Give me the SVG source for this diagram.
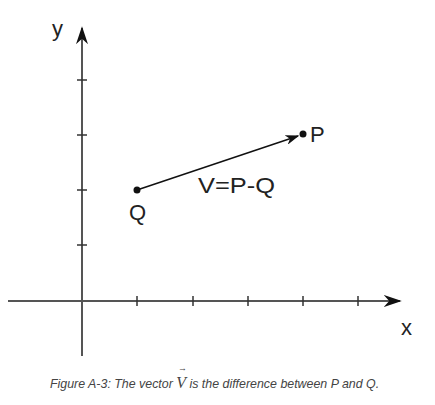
<svg xmlns="http://www.w3.org/2000/svg" width="435" height="405" viewBox="0 0 435 405">
<style>
.axis{stroke:#555;stroke-width:2;fill:none}
.tick{stroke:#333;stroke-width:1.5}
.lbl{font-family:"Liberation Sans",Arial,sans-serif;font-size:22px;fill:#222}
.cap{font-family:"Liberation Sans",Arial,sans-serif;font-size:12.4px;font-style:italic;fill:#444}
</style>
<defs>
<marker id="ah" viewBox="0 0 10 10" refX="9" refY="5" markerWidth="14" markerHeight="10" markerUnits="userSpaceOnUse" orient="auto" preserveAspectRatio="none">
<path d="M0,0 L10,5 L0,10 L3,5 Z" fill="#111"/>
</marker>
<marker id="axh" viewBox="0 0 10 10" refX="9" refY="5" markerWidth="18" markerHeight="12" markerUnits="userSpaceOnUse" orient="auto" preserveAspectRatio="none">
<path d="M0,0 L10,5 L0,10 L3,5 Z" fill="#111"/>
</marker>
</defs>
<g id="axes">
<line class="axis" x1="8" y1="301" x2="400" y2="301" marker-end="url(#axh)"/>
<line class="axis" x1="82" y1="356" x2="82" y2="28" marker-end="url(#axh)"/>
<g class="tick">
<line x1="137" y1="296" x2="137" y2="306"/>
<line x1="193" y1="296" x2="193" y2="306"/>
<line x1="248" y1="296" x2="248" y2="306"/>
<line x1="303" y1="296" x2="303" y2="306"/>
<line x1="358" y1="296" x2="358" y2="306"/>
<line x1="77" y1="80" x2="87" y2="80"/>
<line x1="77" y1="135" x2="87" y2="135"/>
<line x1="77" y1="190" x2="87" y2="190"/>
<line x1="77" y1="245" x2="87" y2="245"/>
</g>
<text class="lbl" x="52" y="36">y</text>
<text class="lbl" x="401" y="335">x</text>
</g>
<g id="Q">
<circle cx="137" cy="190" r="3.5" fill="#111"/>
<text class="lbl" x="129" y="220">Q</text>
</g>
<g id="P">
<circle cx="303" cy="134" r="3.5" fill="#111"/>
<text class="lbl" x="310" y="142">P</text>
</g>
<g id="connectors">
<line x1="137" y1="190" x2="298" y2="136" stroke="#111" stroke-width="1.5" marker-end="url(#ah)"/>
<text class="lbl" x="198" y="193" textLength="77" lengthAdjust="spacingAndGlyphs">V=P-Q</text>
</g>
<g id="caption">
<text class="cap" x="50" y="388">Figure A-3: The vector <tspan font-family="'Liberation Serif',serif" font-size="16px">V</tspan> is the difference between P and Q.</text>
<text x="178" y="371" font-family="'Liberation Serif',serif" font-size="9px" fill="#444">→</text>
</g>
</svg>
